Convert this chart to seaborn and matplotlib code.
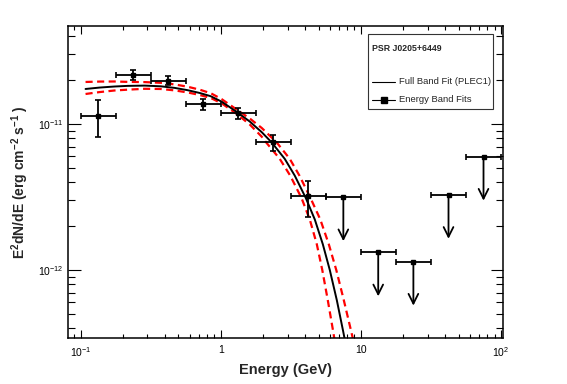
import numpy as np
import matplotlib
matplotlib.use("Agg")
import matplotlib.pyplot as plt
import seaborn as sns
from matplotlib.lines import Line2D
from matplotlib.patches import Rectangle
from matplotlib.ticker import FixedLocator, FixedFormatter, NullFormatter, LogLocator

# energy band fits (GeV, erg cm^-2 s^-1)
band_lo = [0.100, 0.178, 0.316, 0.562, 1.00, 1.78, 3.16]
band_hi = [0.178, 0.316, 0.562, 1.00, 1.78, 3.16, 5.62]
band_e = [0.133, 0.237, 0.422, 0.750, 1.33, 2.37, 4.22]
band_flux = [1.13e-11, 2.18e-11, 1.98e-11, 1.37e-11, 1.19e-11, 7.5e-12, 3.21e-12]
band_flux_lo = [8.1e-12, 1.99e-11, 1.85e-11, 1.25e-11, 1.08e-11, 6.5e-12, 2.32e-12]
band_flux_hi = [1.46e-11, 2.36e-11, 2.12e-11, 1.48e-11, 1.28e-11, 8.4e-12, 4.09e-12]

# upper limits
ul_lo = [5.62, 10.0, 17.8, 31.6, 56.2]
ul_hi = [10.0, 17.8, 31.6, 56.2, 100.0]
ul_e = [7.50, 13.3, 23.7, 42.2, 75.0]
ul_flux = [3.15e-12, 1.32e-12, 1.14e-12, 3.27e-12, 5.97e-12]

# full band fit (PLEC1)
fit_e = [0.1086, 0.1367, 0.1749, 0.2167, 0.2866, 0.3728, 0.4692, 0.581, 0.7079,
         0.8483, 1.017, 1.301, 1.611, 1.963, 2.313, 2.865, 3.378, 4.047, 4.692,
         5.354, 6.007, 6.740, 7.474, 7.813]
fit_flux = [1.737e-11, 1.776e-11, 1.806e-11, 1.824e-11, 1.832e-11, 1.812e-11,
            1.767e-11, 1.704e-11, 1.631e-11, 1.550e-11, 1.421e-11, 1.210e-11,
            1.040e-11, 8.786e-12, 7.467e-12, 5.768e-12, 4.424e-12, 3.112e-12,
            2.218e-12, 1.500e-12, 9.968e-13, 6.200e-13, 3.808e-13, 3.063e-13]

# error band of the fit
up_e = [0.1086, 0.1367, 0.1749, 0.2167, 0.2866, 0.3728, 0.4692, 0.581, 0.7079,
        0.8483, 1.017, 1.301, 1.611, 1.963, 2.512, 3.111, 3.649, 4.372, 5.136,
        5.906, 6.683, 7.560, 8.526, 8.986]
up_flux = [1.940e-11, 1.952e-11, 1.955e-11, 1.943e-11, 1.936e-11, 1.915e-11,
           1.867e-11, 1.800e-11, 1.718e-11, 1.626e-11, 1.479e-11, 1.255e-11,
           1.091e-11, 9.389e-12, 7.467e-12, 5.768e-12, 4.424e-12, 3.112e-12,
           2.218e-12, 1.500e-12, 9.968e-13, 6.200e-13, 3.808e-13, 3.063e-13]
low_e = [0.1086, 0.1367, 0.1749, 0.2167, 0.2866, 0.3728, 0.4692, 0.581, 0.7079,
         0.8483, 1.017, 1.301, 1.611, 1.963, 2.113, 2.639, 3.136, 3.771, 4.322,
         4.850, 5.309, 5.810, 6.341, 6.575]
low_flux = [1.605e-11, 1.654e-11, 1.696e-11, 1.718e-11, 1.742e-11, 1.737e-11,
            1.699e-11, 1.644e-11, 1.580e-11, 1.507e-11, 1.384e-11, 1.173e-11,
            9.922e-12, 8.184e-12, 7.467e-12, 5.768e-12, 4.424e-12, 3.112e-12,
            2.218e-12, 1.500e-12, 9.968e-13, 6.200e-13, 3.808e-13, 3.063e-13]

sns.set_style("ticks")
plt.rcParams["font.family"] = ["Liberation Sans", "DejaVu Sans"]
plt.rcParams["mathtext.fontset"] = "custom"
plt.rcParams["mathtext.rm"] = "Liberation Sans"
plt.rcParams["mathtext.bf"] = "Liberation Sans:bold"
plt.rcParams["mathtext.default"] = "regular"

fig = plt.figure(figsize=(5.67, 3.84), dpi=100)
ax = fig.add_axes([68 / 567, 46 / 384, 435 / 567, 312 / 384])
ax.set_xscale("log")
ax.set_yscale("log")

# dashed red error band
for xs, ys in [(up_e, up_flux), (low_e, low_flux)]:
    ln, = ax.plot(xs, ys, color="red", lw=1.6, linestyle="--")
    ln.set_dashes([3.2, 2.0])
    ln.set_dash_capstyle("butt")
sns.lineplot(x=fit_e, y=fit_flux, ax=ax, color="black", linewidth=1.4,
             estimator=None, sort=False)

be = np.array(band_e)
bf = np.array(band_flux)
xerr = [be - np.array(band_lo), np.array(band_hi) - be]
yerr = [bf - np.array(band_flux_lo), np.array(band_flux_hi) - bf]
ax.errorbar(be, bf, xerr=xerr, yerr=yerr, fmt="s", color="black", ms=3,
            lw=1.3, capsize=2, capthick=1.2, zorder=4)

ue = np.array(ul_e)
uf = np.array(ul_flux)
uxerr = [ue - np.array(ul_lo), np.array(ul_hi) - ue]
ax.errorbar(ue, uf, xerr=uxerr, fmt="s", color="black", ms=3,
            lw=1.3, capsize=2, capthick=1.2, zorder=4)
for x, y in zip(ul_e, ul_flux):
    ax.annotate("", xy=(x, y * 0.5), xytext=(x, y),
                arrowprops=dict(arrowstyle="->,head_length=0.7,head_width=0.35",
                                lw=1.3, color="black", shrinkA=0, shrinkB=0))

ax.set_xlim(0.0814, 103.3)
ax.set_ylim(3.42e-13, 4.69e-11)

ax.xaxis.set_major_locator(FixedLocator([0.1, 1, 10, 100]))
ax.xaxis.set_major_formatter(FixedFormatter([r"$10^{-1}$", "1", "10", r"$10^{2}$"]))
ax.yaxis.set_major_locator(FixedLocator([1e-12, 1e-11]))
ax.yaxis.set_major_formatter(FixedFormatter([r"$10^{-12}$", r"$10^{-11}$"]))
ax.xaxis.set_minor_locator(LogLocator(base=10, subs=np.arange(2, 10), numticks=20))
ax.yaxis.set_minor_locator(LogLocator(base=10, subs=np.arange(2, 10), numticks=20))
ax.xaxis.set_minor_formatter(NullFormatter())
ax.yaxis.set_minor_formatter(NullFormatter())

ax.tick_params(which="both", direction="in", top=True, right=True, width=0.8,
               labelsize=7.5, colors="black")
ax.tick_params(axis="x", which="major", length=6, pad=5)
ax.tick_params(axis="x", which="minor", length=3.2)
ax.tick_params(axis="y", which="major", length=9, pad=3)
ax.tick_params(axis="y", which="minor", length=4.7)
for s in ax.spines.values():
    s.set_linewidth(1.1)
    s.set_color("black")

ax.set_xlabel("Energy (GeV)", fontsize=10.5, fontweight="bold", labelpad=3)
ax.set_ylabel(r"E$^{\mathbf{2}}$dN/dE (erg cm$^{\mathbf{-2}}$ s$^{\mathbf{-1}}$ )",
              fontsize=10, fontweight="bold", labelpad=5)

# legend box
ax.add_patch(Rectangle((0.690, 0.734), 0.287, 0.240, transform=ax.transAxes,
                       facecolor="white", edgecolor="#333333", lw=0.8, zorder=6))
ax.text(0.700, 0.929, "PSR J0205+6449", transform=ax.transAxes, fontsize=6.3,
        fontweight="bold", va="center", ha="left", zorder=7)
ax.add_line(Line2D([0.699, 0.752], [0.821, 0.821], transform=ax.transAxes,
                   color="black", lw=0.8, zorder=7))
ax.text(0.761, 0.821, "Full Band Fit (PLEC1)", transform=ax.transAxes,
        fontsize=6.8, va="center", ha="left", zorder=7)
ax.add_line(Line2D([0.699, 0.752], [0.763, 0.763], transform=ax.transAxes,
                   color="black", lw=0.8, zorder=7))
ax.add_line(Line2D([0.7255], [0.763], transform=ax.transAxes, marker="s", ms=4,
                   color="black", zorder=7))
ax.text(0.761, 0.763, "Energy Band Fits", transform=ax.transAxes,
        fontsize=6.8, va="center", ha="left", zorder=7)

fig.savefig("out.png", dpi=100)
